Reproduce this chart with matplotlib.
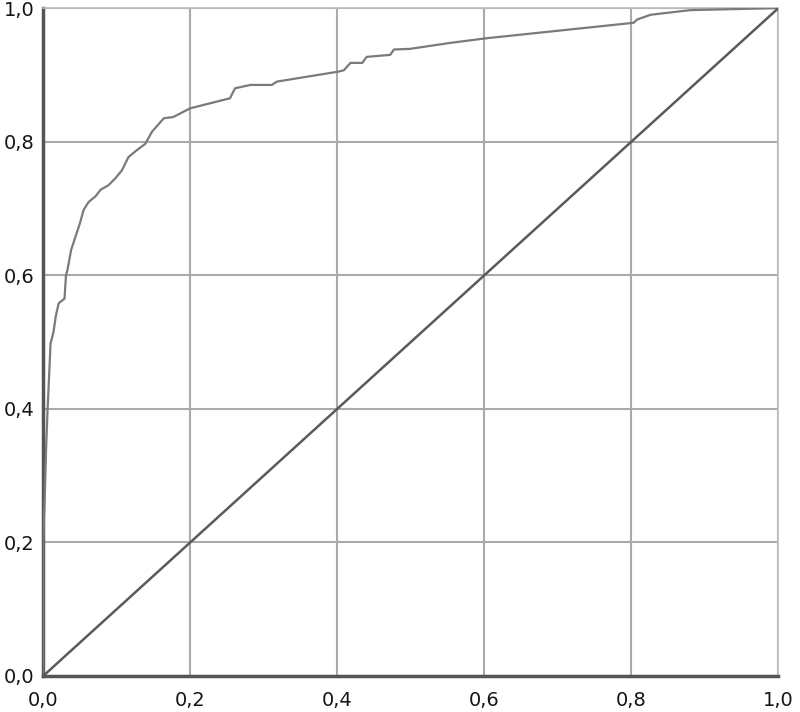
import matplotlib
matplotlib.use("Agg")
import matplotlib.pyplot as plt
from matplotlib.ticker import FuncFormatter

# ROC curve points
fpr = [0.0, 0.0, 0.002, 0.004, 0.006, 0.008, 0.010, 0.014, 0.017, 0.021, 0.029,
       0.031, 0.033, 0.038, 0.044, 0.050, 0.055, 0.062, 0.071, 0.078, 0.089,
       0.098, 0.107, 0.116, 0.127, 0.139, 0.148, 0.164, 0.177, 0.200, 0.254,
       0.261, 0.282, 0.311, 0.318, 0.402, 0.409, 0.418, 0.434, 0.440, 0.472,
       0.477, 0.499, 0.554, 0.604, 0.803, 0.808, 0.826, 0.880, 1.0]
tpr = [0.0, 0.20, 0.263, 0.343, 0.400, 0.448, 0.498, 0.515, 0.538, 0.558, 0.565,
       0.600, 0.608, 0.638, 0.658, 0.678, 0.698, 0.710, 0.718, 0.728, 0.735,
       0.745, 0.757, 0.777, 0.787, 0.797, 0.815, 0.835, 0.837, 0.850, 0.865,
       0.880, 0.885, 0.885, 0.890, 0.905, 0.907, 0.918, 0.918, 0.927, 0.930,
       0.938, 0.939, 0.948, 0.955, 0.978, 0.983, 0.990, 0.997, 1.0]
ref_line = [0.0, 1.0]
ticks = [0.0, 0.2, 0.4, 0.6, 0.8, 1.0]

plt.rcParams['font.family'] = ['DejaVu Sans']

fig = plt.figure(figsize=(8, 7.12), dpi=100)
ax = fig.add_axes([0.054, 0.0506, 0.919, 0.938])

ax.plot(fpr, tpr, color='#7a7a7a', linewidth=1.6, zorder=3)
ax.plot(ref_line, ref_line, color='#5a5a5a', linewidth=1.8, zorder=3)

ax.set_xlim(0, 1)
ax.set_ylim(0, 1)
ax.set_xticks(ticks)
ax.set_yticks(ticks)
fmt = FuncFormatter(lambda v, p: ("%.1f" % v).replace('.', ','))
ax.xaxis.set_major_formatter(fmt)
ax.yaxis.set_major_formatter(fmt)
ax.tick_params(axis='both', length=0, labelsize=14, colors='#151515')
ax.tick_params(axis='x', pad=11)
ax.tick_params(axis='y', pad=6)
ax.grid(True, color='#aaaaaa', linewidth=1.5)
ax.set_axisbelow(True)

for side in ['top', 'right']:
    ax.spines[side].set_color('#bbbbbb')
    ax.spines[side].set_linewidth(1.2)
for side in ['left', 'bottom']:
    ax.spines[side].set_color('#555555')
    ax.spines[side].set_linewidth(2.5)

fig.savefig('out.png', dpi=100)
plt.close(fig)
